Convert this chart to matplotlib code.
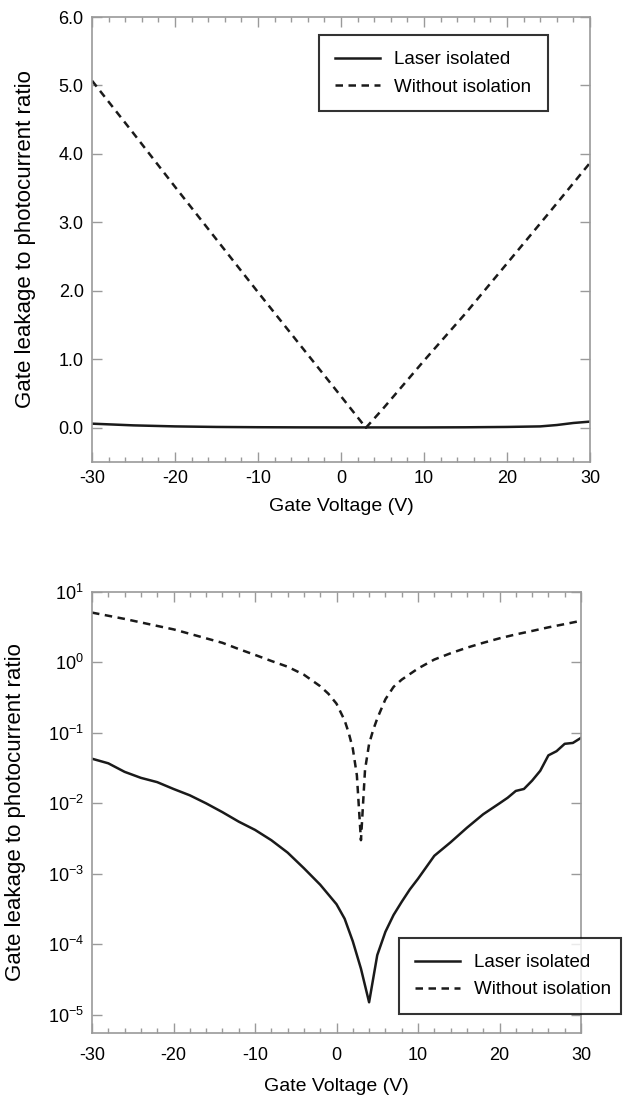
import matplotlib
matplotlib.use("Agg")
import matplotlib.pyplot as plt
import numpy as np

plt.rcParams['font.family'] = ['Liberation Sans', 'DejaVu Sans']
plt.rcParams['mathtext.fontset'] = 'custom'
plt.rcParams['mathtext.rm'] = 'Liberation Sans'
plt.rcParams['mathtext.it'] = 'Liberation Sans'
plt.rcParams['axes.unicode_minus'] = False

# ---- Top panel (linear) ----
top_v_solid = [-30, -25, -20, -15, -10, -5, 0, 5, 10, 15, 20, 24, 26, 28, 30]
top_solid = [0.06, 0.035, 0.02, 0.012, 0.008, 0.006, 0.005, 0.005, 0.005, 0.007, 0.012, 0.02, 0.04, 0.07, 0.09]
top_v_dash = [-30, -25, -20, -15, -10, -5, 0, 3, 5, 10, 15, 20, 25, 30]
top_dash = [5.07, 4.3, 3.52, 2.75, 1.98, 1.22, 0.46, 0.0, 0.27, 0.98, 1.67, 2.4, 3.13, 3.87]

# ---- Bottom panel (log) ----
bot_v_solid = [-30, -28, -26, -24, -22, -20, -18, -16, -14, -12, -10, -8, -6, -4, -2, 0, 1, 2, 3, 4,
               5, 6, 7, 8, 9, 10, 12, 14, 16, 18, 20, 21, 22, 23, 24, 25, 26, 27, 28, 29, 30]
bot_solid = [0.043, 0.037, 0.028, 0.023, 0.02, 0.016, 0.013, 0.01, 0.0075, 0.0055, 0.0042, 0.003, 0.002,
             0.0012, 7e-4, 3.7e-4, 2.3e-4, 1.1e-4, 4.5e-5, 1.5e-5,
             7e-5, 1.5e-4, 2.6e-4, 4e-4, 6e-4, 8.5e-4, 1.8e-3, 2.8e-3, 4.5e-3, 7e-3, 1e-2, 1.2e-2,
             1.5e-2, 1.6e-2, 2.1e-2, 2.9e-2, 4.8e-2, 5.5e-2, 7e-2, 7.2e-2, 8.5e-2]
bot_v_dash = [-30, -28, -26, -24, -22, -20, -18, -16, -14, -12, -10, -8, -6, -4, -2, -1, 0, 1, 1.5, 2, 2.5,
              3, 3.5, 4, 4.5, 5, 6, 7, 8, 10, 12, 14, 16, 18, 20, 22, 24, 26, 28, 30]
bot_dash = [5.1, 4.6, 4.15, 3.7, 3.3, 2.95, 2.55, 2.2, 1.9, 1.55, 1.28, 1.05, 0.87, 0.67, 0.46, 0.36, 0.26,
            0.15, 0.1, 0.06, 0.025, 0.003, 0.03, 0.07, 0.11, 0.16, 0.3, 0.45, 0.57, 0.82, 1.1, 1.35,
            1.62, 1.9, 2.2, 2.5, 2.8, 3.15, 3.5, 3.9]

labels = ["Laser isolated", "Without isolation"]
xticks = [-30, -20, -10, 0, 10, 20, 30]

W, H = 623, 1097
fig = plt.figure(figsize=(W / 100, H / 100), dpi=100)

def fx(px):
    return px / W

def fy(py):
    return 1 - py / H

ax1 = fig.add_axes([fx(92), fy(462), fx(590) - fx(92), fy(17) - fy(462)])
ax2 = fig.add_axes([fx(92), fy(1033), fx(581) - fx(92), fy(592) - fy(1033)])

spine_col = '#9a9a9a'
for ax, pad, lpad in ((ax1, 6, 8), (ax2, 10, 10)):
    for s in ax.spines.values():
        s.set_color(spine_col)
        s.set_linewidth(1.2)
    ax.tick_params(which='both', direction='in', top=True, right=True, color=spine_col,
                   labelsize=13, width=1.0)
    ax.tick_params(which='major', length=7)
    ax.tick_params(axis='x', which='major', pad=pad)
    ax.tick_params(axis='y', which='major', pad=6)
    ax.tick_params(which='minor', length=3.5)
    ax.set_xlim(-30, 30)
    ax.set_xticks(xticks)
    ax.set_xticks(np.arange(-30, 31, 2), minor=True)
    ax.set_xlabel("Gate Voltage (V)", fontsize=14, labelpad=lpad)


def add_legend(handles, x0, y0, x1, y1):
    leg = fig.legend(handles, labels, loc='upper left',
                     bbox_to_anchor=(fx(x0), fy(y1), fx(x1) - fx(x0), fy(y0) - fy(y1)),
                     mode='expand', fontsize=13.5, frameon=True, fancybox=False,
                     handlelength=2.4, handletextpad=0.75, borderpad=0.85,
                     labelspacing=0.55, borderaxespad=0.0)
    leg.get_frame().set_edgecolor('black')
    leg.get_frame().set_linewidth(1.5)
    leg.set_zorder(5)
    return leg


# top panel
l1, = ax1.plot(top_v_solid, top_solid, color='#1a1a1a', lw=1.8)
l2, = ax1.plot(top_v_dash, top_dash, color='#1a1a1a', lw=1.8, dashes=(3.0, 2.2))
ax1.set_ylim(-0.5, 6.0)
ax1.set_yticks(np.arange(0, 6.01, 1.0))
ax1.set_yticklabels([f"{v:.1f}" for v in np.arange(0, 6.01, 1.0)])
ax1.yaxis.set_minor_locator(matplotlib.ticker.NullLocator())
ax1.set_ylabel("Gate leakage to photocurrent ratio", fontsize=16)
ax1.yaxis.set_label_coords(-0.112, 0.5)
add_legend([l1, l2], 319, 35, 548, 110)

# bottom panel
m1, = ax2.plot(bot_v_solid, bot_solid, color='#1a1a1a', lw=1.8)
m2, = ax2.plot(bot_v_dash, bot_dash, color='#1a1a1a', lw=1.8, dashes=(3.0, 2.2))
ax2.set_yscale('log')
ax2.set_ylim(10 ** -5.26, 10)
ax2.set_yticks([10.0 ** k for k in range(-5, 2)])
ax2.set_yticklabels([f"$10^{{{k}}}$" for k in range(-5, 2)])
ax2.yaxis.set_minor_locator(matplotlib.ticker.NullLocator())
ax2.set_ylabel("Gate leakage to photocurrent ratio", fontsize=16)
ax2.yaxis.set_label_coords(-0.135, 0.5)
add_legend([m1, m2], 399, 938, 621, 1013)

fig.savefig("out.png", dpi=100)
